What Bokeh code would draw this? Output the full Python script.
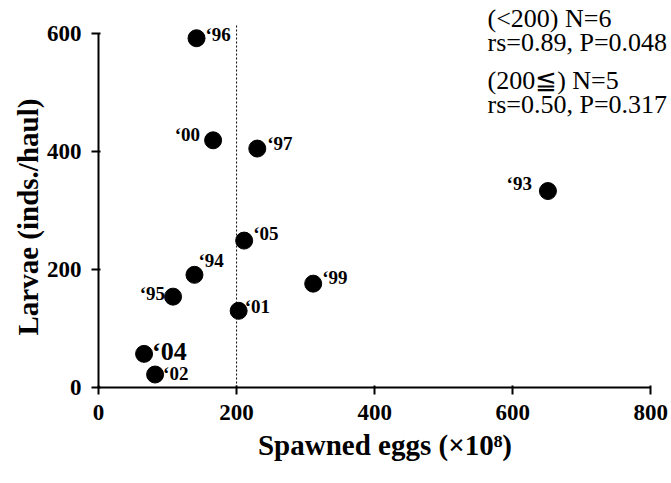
from bokeh.plotting import figure
from bokeh.models import ColumnDataSource, Range1d, FixedTicker, Label, Title
from bokeh.core.properties import value
from bokeh.embed import file_html
from bokeh.resources import INLINE

# data
years = ["‘93", "‘94", "‘95", "‘96", "‘97", "‘99", "‘00", "‘01", "‘02", "‘04", "‘05"]
eggs = [651, 139, 108, 142, 230, 311, 166, 203, 82, 66, 211]
larvae = [333, 191, 154, 592, 405, 176, 419, 130, 22, 57, 249]
x_ticks = [0, 200, 400, 600, 800]
y_ticks = [0, 200, 400, 600]
threshold = 200
stats_lines = ["(<200) N=6", "rs=0.89, P=0.048", "(200≦) N=5", "rs=0.50, P=0.317"]

# label placement (layout only)
lab_dx = [-16, 4, -8, 9, 10, 9, -13, 6, 8, 8, 9]
lab_dy = [-8, -14, -3, -4, -5, -6, -6, -4, -1, -2, -7]
lab_align = ["right", "left", "right", "left", "left", "left", "right", "left", "left", "left", "left"]
lab_size = ["19px"] * 9 + ["26px", "19px"]

FONT = "Liberation Serif"

p = figure(width=671, height=483, output_backend="svg", toolbar_location=None,
           x_range=Range1d(0, 830), y_range=Range1d(0, 656),
           min_border_left=98, min_border_right=0, min_border_top=0, min_border_bottom=96)
p.outline_line_color = None
p.xgrid.visible = False
p.ygrid.visible = False

for ax in (p.xaxis[0], p.yaxis[0]):
    ax.axis_line_width = 2
    ax.major_tick_line_width = 2
    ax.major_tick_out = 7
    ax.major_tick_in = 2
    ax.minor_tick_line_color = None
    ax.major_label_text_font = FONT
    ax.major_label_text_font_style = "bold"
    ax.major_label_text_font_size = "23px"
    ax.major_label_text_color = "black"
    ax.axis_label_text_font = FONT
    ax.axis_label_text_font_style = "bold"
    ax.axis_label_text_font_size = "29px"
    ax.axis_label_text_color = "black"

p.xaxis.ticker = FixedTicker(ticks=x_ticks)
p.yaxis.ticker = FixedTicker(ticks=y_ticks)
p.xaxis.bounds = (0, 800)
p.yaxis.bounds = (0, 600)
p.xaxis.axis_label = "Spawned eggs (×10⁸)"
p.xaxis.major_label_standoff = 10
p.xaxis.axis_label_standoff = 6
p.yaxis.major_label_standoff = 10

ytitle = Title(text="Larvae (inds./haul)", align="left", offset=52,
               text_font=FONT, text_font_style="bold", text_font_size="29px",
               text_color="black", standoff=0)
p.add_layout(ytitle, "left")

p.segment(x0=[threshold], y0=[0], x1=[threshold], y1=[617], line_color="black",
          line_width=1, line_dash="2 2")

src = ColumnDataSource(dict(x=eggs, y=larvae, t=years, dx=lab_dx, dy=lab_dy,
                            al=lab_align, fs=lab_size))
p.scatter("x", "y", source=src, size=17, color="black")
p.text("x", "y", text="t", source=src, x_offset="dx", y_offset="dy",
       text_align="al", text_baseline="middle", text_font=value(FONT),
       text_font_style="bold", text_font_size="fs", text_color="black")

ys = [18, 42, 80, 104]
for s, yy in zip(stats_lines, ys):
    p.add_layout(Label(x=487 - 98, y=483 - 96 - yy, x_units="screen", y_units="screen", text=s,
                       text_font=FONT, text_font_size="26px", text_color="black",
                       text_baseline="middle"))

html = file_html(p, INLINE)
open("out.html", "w").write(html)
